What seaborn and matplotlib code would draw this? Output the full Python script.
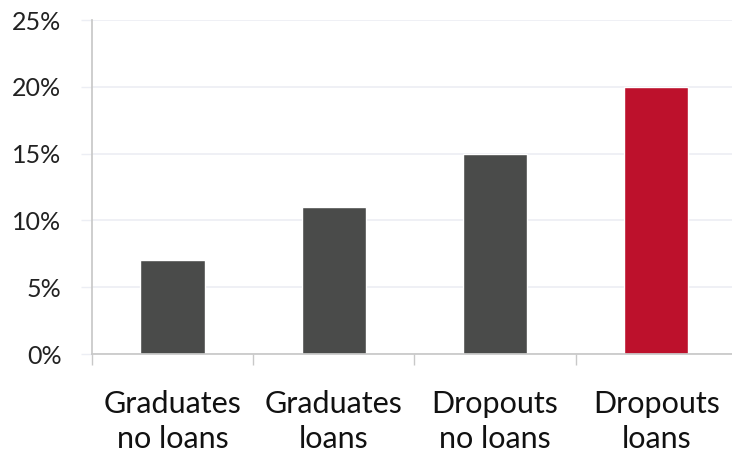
import matplotlib
matplotlib.use("Agg")
import matplotlib.pyplot as plt
import seaborn as sns
import pandas as pd
from matplotlib.ticker import FixedLocator

categories = ["Graduates\nno loans", "Graduates\nloans", "Dropouts\nno loans", "Dropouts\nloans"]
values = [7, 11, 15, 20]
bar_colors = ["#4a4b4a", "#4a4b4a", "#4a4b4a", "#bd112c"]
y_ticks = [0, 5, 10, 15, 20, 25]

sns.set_theme(style="white")
plt.rcParams["font.family"] = ["Lato", "DejaVu Sans"]

df = pd.DataFrame({"group": categories, "share": values})

fig = plt.figure(figsize=(7.32, 4.58), dpi=100)
ax = fig.add_axes([92 / 732, 104 / 458, 1 - 92 / 732, (354 - 20) / 458])

sns.barplot(data=df, x="group", y="share", hue="group", palette=bar_colors,
            width=0.40, legend=False, ax=ax, saturation=1)

ax.set_ylim(0, 25)
ax.set_xlim(-0.5, 3.47)
ax.set_yticks(y_ticks)
ax.set_yticklabels([f"{t}%" for t in y_ticks], fontsize=18, color="#222222")
ax.yaxis.grid(True, color="#eceef4", linewidth=1.2)
ax.set_axisbelow(True)

ax.set_xlabel("")
ax.set_ylabel("")
ax.tick_params(axis="x", which="major", length=0, labelsize=22, pad=26, labelcolor="#111111")
ax.xaxis.set_minor_locator(FixedLocator([-0.5, 0.5, 1.5, 2.5, 3.5]))
ax.tick_params(axis="x", which="minor", bottom=True, length=8, width=1, color="#c8c8c8")
ax.tick_params(axis="y", left=True, length=8, width=1, color="#eceef4", pad=14)
for lbl in ax.get_xticklabels():
    lbl.set_linespacing(1.3)

for side in ["top", "right"]:
    ax.spines[side].set_visible(False)
ax.spines["left"].set_color("#c8c8c8")
ax.spines["bottom"].set_color("#c8c8c8")

fig.savefig("out.png", dpi=100)
